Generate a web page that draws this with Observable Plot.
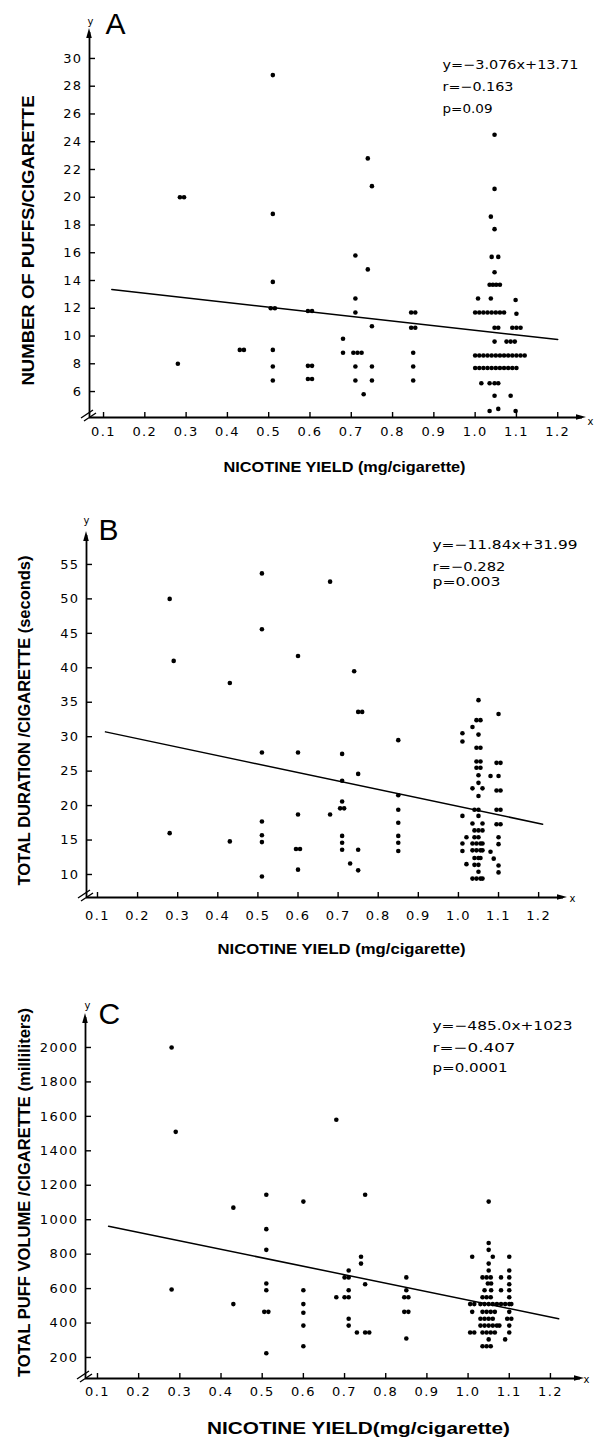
<!DOCTYPE html>
<html>
<head>
<meta charset="utf-8">
<script src="https://cdn.jsdelivr.net/npm/d3@7"></script>
<script src="https://cdn.jsdelivr.net/npm/@observablehq/plot@0.6"></script>
<style>
  html, body { margin: 0; padding: 0; background: #fff; }
  #wrap { position: relative; width: 597px; height: 1439px; overflow: hidden; background: #fff; }
  #wrap svg { position: absolute; left: 0; }
  #wrap svg g[aria-label$="tick label"] text { letter-spacing: 1.4px; }
</style>
</head>
<body>
<div id="wrap"></div>
<script>
// ---------- DATA ----------
const xTickValues = [0.1, 0.2, 0.3, 0.4, 0.5, 0.6, 0.7, 0.8, 0.9, 1.0, 1.1, 1.2];
const puffTicks = [6, 8, 10, 12, 14, 16, 18, 20, 22, 24, 26, 28, 30];
const durationTicks = [10, 15, 20, 25, 30, 35, 40, 45, 50, 55];
const volumeTicks = [200, 400, 600, 800, 1000, 1200, 1400, 1600, 1800, 2000];

const xLabelText = "NICOTINE YIELD (mg/cigarette)";
const xLabelTextC = "NICOTINE YIELD(mg/cigarette)";
const panelLetters = ["A", "B", "C"];
const yLabels = [
  "NUMBER OF PUFFS/CIGARETTE",
  "TOTAL DURATION /CIGARETTE (seconds)",
  "TOTAL PUFF VOLUME /CIGARETTE (milliliters)"
];
const puffStats = ["y=\u22123.076x+13.71", "r=\u22120.163", "p=0.09"];
const durationStats = ["y=\u221211.84x+31.99", "r=\u22120.282", "p=0.003"];
const volumeStats = ["y=\u2212485.0x+1023", "r=\u22120.407", "p=0.0001"];

// regression line end points [nicotine, value]
const puffFit = [[0.12, 13.35], [1.2, 9.75]];
const durationFit = [[0.12, 30.7], [1.21, 17.3]];
const volumeFit = [[0.127, 962], [1.22, 425]];

// [nicotine yield, number of puffs]
const puffPoints = [
  [0.285, 20], [0.295, 20], [0.28, 8],
  [0.43, 9], [0.44, 9],
  [0.51, 28.8], [0.51, 18.8], [0.51, 13.9], [0.505, 12], [0.515, 12], [0.51, 9], [0.51, 7.8], [0.51, 6.8],
  [0.595, 11.8], [0.605, 11.8], [0.595, 7.85], [0.605, 7.85], [0.595, 6.9], [0.605, 6.9],
  [0.68, 9.8], [0.68, 8.8],
  [0.71, 15.8], [0.71, 12.7], [0.71, 11.7], [0.705, 8.8], [0.715, 8.8], [0.725, 8.8], [0.71, 7.8], [0.71, 6.8],
  [0.73, 5.8],
  [0.74, 22.8], [0.74, 14.8],
  [0.75, 20.8], [0.75, 10.7], [0.75, 7.8], [0.75, 6.8],
  [0.845, 11.7], [0.855, 11.7], [0.845, 10.6], [0.855, 10.6], [0.85, 8.8], [0.85, 7.8], [0.85, 6.8],
  [1.047, 24.5], [1.047, 20.6], [1.038, 18.6], [1.047, 17.7], [1.04, 15.7], [1.056, 15.7], [1.047, 14.6],
  [1.035, 13.7], [1.043, 13.7], [1.051, 13.7], [1.06, 13.7],
  [1.007, 12.7], [1.038, 12.7], [1.098, 12.6],
  [1.0, 11.7], [1.01, 11.7], [1.02, 11.7], [1.03, 11.7], [1.04, 11.7], [1.05, 11.7], [1.06, 11.7], [1.07, 11.7], [1.1, 11.6],
  [1.047, 10.6], [1.056, 10.6], [1.09, 10.6], [1.1, 10.6], [1.11, 10.6],
  [1.047, 9.6], [1.076, 9.6], [1.086, 9.6], [1.096, 9.6],
  [1.0, 8.6], [1.01, 8.6], [1.02, 8.6], [1.03, 8.6], [1.04, 8.6], [1.05, 8.6], [1.06, 8.6], [1.07, 8.6], [1.08, 8.6], [1.09, 8.6], [1.1, 8.6], [1.11, 8.6], [1.12, 8.6],
  [1.0, 7.7], [1.01, 7.7], [1.02, 7.7], [1.03, 7.7], [1.04, 7.7], [1.05, 7.7], [1.06, 7.7], [1.07, 7.7], [1.08, 7.7], [1.09, 7.7], [1.1, 7.7],
  [1.015, 6.6], [1.035, 6.6], [1.047, 6.6], [1.056, 6.6],
  [1.047, 5.7], [1.086, 5.7],
  [1.035, 4.6], [1.056, 4.75], [1.098, 4.6]
];

// [nicotine yield, total duration (s)]
const durationPoints = [
  [0.28, 50], [0.28, 16], [0.29, 41],
  [0.43, 37.8], [0.43, 14.8],
  [0.51, 53.7], [0.51, 45.6], [0.51, 27.7], [0.51, 17.7], [0.51, 15.7], [0.51, 14.7], [0.51, 9.7],
  [0.6, 41.7], [0.6, 27.7], [0.6, 18.7], [0.595, 13.7], [0.605, 13.7], [0.6, 10.7],
  [0.68, 52.5], [0.68, 18.7],
  [0.71, 27.5], [0.71, 23.6], [0.71, 20.6], [0.705, 19.6], [0.715, 19.6], [0.71, 15.6], [0.71, 14.6], [0.71, 13.6],
  [0.73, 11.6],
  [0.74, 39.5],
  [0.75, 33.6], [0.76, 33.6], [0.75, 24.6], [0.75, 13.6], [0.75, 10.6],
  [0.85, 29.5], [0.85, 21.5], [0.85, 19.4], [0.85, 17.5], [0.85, 15.6], [0.85, 14.6], [0.85, 13.4],
  [1.01, 30.5], [1.01, 29.3], [1.01, 18.5], [1.01, 14.5], [1.01, 13.4],
  [1.02, 15.4], [1.02, 11.5],
  [1.05, 35.3], [1.045, 32.4], [1.055, 32.4], [1.035, 31.4], [1.05, 30.3],
  [1.045, 28.4], [1.055, 28.4], [1.045, 26.4], [1.055, 26.4], [1.045, 25.5], [1.055, 25.5],
  [1.05, 24.4], [1.05, 23.3], [1.035, 22.5], [1.06, 22.5], [1.05, 21.4],
  [1.04, 19.4], [1.05, 19.4], [1.05, 18.5], [1.035, 17.4], [1.06, 17.4],
  [1.04, 16.4], [1.05, 16.4], [1.06, 16.4], [1.04, 15.4], [1.05, 15.4],
  [1.035, 14.5], [1.045, 14.5], [1.055, 14.5], [1.06, 14.5],
  [1.035, 13.5], [1.045, 13.5], [1.055, 13.5], [1.06, 13.5],
  [1.04, 12.4], [1.05, 12.4], [1.055, 12.4], [1.04, 11.4], [1.05, 11.4], [1.05, 10.4],
  [1.035, 9.4], [1.045, 9.4], [1.055, 9.4], [1.06, 9.4],
  [1.08, 24.3], [1.08, 13.3], [1.088, 12.3],
  [1.1, 33.3], [1.095, 26.2], [1.105, 26.2], [1.1, 24.3], [1.095, 22.2], [1.105, 22.2],
  [1.095, 19.4], [1.105, 19.4], [1.095, 17.3], [1.105, 17.3], [1.1, 15.4], [1.1, 14.4], [1.1, 11.3], [1.1, 10.3]
];

// [nicotine yield, total puff volume (ml)]
const volumePoints = [
  [0.28, 2000], [0.28, 595], [0.29, 1510],
  [0.43, 1070], [0.43, 510],
  [0.51, 1145], [0.51, 945], [0.51, 825], [0.51, 630], [0.51, 590], [0.505, 465], [0.515, 465], [0.51, 225],
  [0.6, 1105], [0.6, 590], [0.6, 510], [0.6, 460], [0.6, 385], [0.6, 265],
  [0.68, 1580], [0.68, 550],
  [0.71, 705], [0.70, 665], [0.71, 665], [0.71, 590], [0.70, 550], [0.71, 550], [0.71, 425], [0.71, 385],
  [0.74, 785], [0.74, 745],
  [0.75, 1145], [0.75, 625],
  [0.73, 345], [0.75, 345], [0.76, 345],
  [0.85, 665], [0.85, 590], [0.845, 550], [0.855, 550], [0.845, 465], [0.855, 465], [0.85, 310],
  [1.01, 785], [1.005, 510], [1.015, 510], [1.01, 465], [1.005, 345], [1.015, 345],
  [1.05, 1105], [1.05, 865], [1.05, 825], [1.06, 785], [1.05, 745], [1.05, 705],
  [1.035, 665], [1.045, 665], [1.055, 665], [1.048, 630], [1.056, 630],
  [1.04, 590], [1.056, 590], [1.035, 550], [1.045, 550], [1.055, 550],
  [1.03, 510], [1.04, 510], [1.05, 510], [1.06, 510], [1.07, 510], [1.08, 510], [1.09, 510],
  [1.035, 465], [1.045, 465], [1.055, 465], [1.065, 465],
  [1.03, 425], [1.04, 425], [1.05, 425], [1.06, 425],
  [1.03, 385], [1.04, 385], [1.05, 385], [1.06, 385], [1.07, 385], [1.076, 385],
  [1.035, 345], [1.045, 345], [1.055, 345], [1.065, 345],
  [1.05, 305], [1.035, 265], [1.045, 265], [1.055, 265],
  [1.08, 665], [1.08, 590], [1.09, 305],
  [1.1, 785], [1.1, 705], [1.1, 665], [1.1, 625], [1.1, 590], [1.1, 550], [1.1, 510], [1.105, 510],
  [1.1, 465], [1.095, 425], [1.105, 425], [1.1, 385], [1.1, 345]
];

// ---------- LAYOUT ----------
const W = 597;
const panels = [
  {
    top: 0, height: 480, left: 89, right: 582, frameTop: 32, frameBottom: 417,
    xDomain: [0.066, 1.26], yDomain: [4.13, 31.87], yTicks: puffTicks, yFormat: d3.format("d"),
    points: puffPoints, fit: puffFit, stats: puffStats, letter: panelLetters[0], yLabel: yLabels[0], xLabel: xLabelText,
    xPad: 9, letterPos: [105, 24], yPos: [90, 21], xPos: [590, 421],
    statX: 442, statRows: [64, 86, 108], statLens: [136, 71, 50],
    yLabelPos: [28, 240], yLabelLen: 290, xLabelPos: [344, 467], xLabelLen: 242, xLabelSize: 14
  },
  {
    top: 480, height: 480, left: 86, right: 563, frameTop: 535, frameBottom: 897,
    xDomain: [0.0726, 1.262], yDomain: [6.66, 59.2], yTicks: durationTicks, yFormat: d3.format("d"),
    points: durationPoints, fit: durationFit, stats: durationStats, letter: panelLetters[1], yLabel: yLabels[1], xLabel: xLabelText,
    xPad: 13, letterPos: [98, 530], yPos: [86, 520], xPos: [572, 898],
    statX: 432, statRows: [544, 566, 581], statLens: [145, 73, 68],
    yLabelPos: [24, 720], yLabelLen: 330, xLabelPos: [341, 949], xLabelLen: 248, xLabelSize: 14
  },
  {
    top: 960, height: 479, left: 85, right: 580, frameTop: 1017, frameBottom: 1378,
    xDomain: [0.0709, 1.273], yDomain: [78, 2174], yTicks: volumeTicks, yFormat: d3.format("d"),
    points: volumePoints, fit: volumeFit, stats: volumeStats, letter: panelLetters[2], yLabel: yLabels[2], xLabel: xLabelTextC,
    xPad: 8, letterPos: [98, 1014], yPos: [87, 1005], xPos: [586, 1379],
    statX: 432, statRows: [1025, 1047, 1067], statLens: [140, 83, 75],
    yLabelPos: [24, 1192], yLabelLen: 369, xLabelPos: [358, 1428], xLabelLen: 303, xLabelSize: 17
  }
];

const wrap = document.getElementById("wrap");

function fitText(svg, str, len) {
  d3.select(svg).selectAll("text")
    .filter(function () { return this.textContent === str; })
    .attr("textLength", len)
    .attr("lengthAdjust", "spacingAndGlyphs");
}

for (const p of panels) {
  const innerW = p.right - p.left;
  const innerH = p.frameBottom - p.frameTop;
  const mt = p.frameTop - p.top;
  const mb = p.top + p.height - p.frameBottom;
  const midX = (p.left + p.right) / 2;
  const midY = (p.frameTop + p.frameBottom) / 2;

  const statMarks = p.stats.map((s, i) =>
    Plot.text([s], {
      frameAnchor: "top-left", text: d => d,
      dx: p.statX - p.left, dy: p.statRows[i] - p.frameTop,
      textAnchor: "start", lineAnchor: "middle",
      fontSize: 12.5, fontFamily: "DejaVu Sans", fill: "#000"
    })
  );

  const chart = Plot.plot({
    width: W,
    height: p.height,
    marginLeft: p.left,
    marginRight: W - p.right,
    marginTop: mt,
    marginBottom: mb,
    style: { background: "#fff", color: "#000", fontFamily: "DejaVu Sans, sans-serif", fontSize: "13px", overflow: "visible" },
    x: { domain: p.xDomain, ticks: xTickValues, tickSize: 0, tickPadding: p.xPad, tickFormat: d3.format(".1f"), label: null },
    y: { domain: p.yDomain, ticks: p.yTicks, tickSize: 0, tickPadding: 7, tickFormat: p.yFormat, label: null },
    marks: [
      Plot.tickX(xTickValues, { x: d => d, insetTop: innerH - 5, stroke: "#000", strokeWidth: 1.4 }),
      Plot.tickY(p.yTicks, { y: d => d, insetRight: innerW - 6, stroke: "#000", strokeWidth: 1.4 }),
      Plot.ruleX([p.xDomain[0]], { stroke: "#000", strokeWidth: 1.8 }),
      Plot.ruleY([p.yDomain[0]], { stroke: "#000", strokeWidth: 1.8 }),
      Plot.line(p.fit, { x: d => d[0], y: d => d[1], stroke: "#000", strokeWidth: 1.5 }),
      Plot.dot(p.points, { x: d => d[0], y: d => d[1], r: 2.3, fill: "#000", stroke: null }),
      Plot.text([p.letter], {
        frameAnchor: "top-left", text: d => d,
        dx: p.letterPos[0] - p.left, dy: p.letterPos[1] - p.frameTop,
        textAnchor: "start", lineAnchor: "middle", fontSize: 30, fontFamily: "Liberation Sans", fill: "#000"
      }),
      Plot.text(["y"], {
        frameAnchor: "top-left", text: d => d,
        dx: p.yPos[0] - p.left, dy: p.yPos[1] - p.frameTop,
        textAnchor: "middle", lineAnchor: "middle", fontSize: 10, fontFamily: "DejaVu Sans", fill: "#000"
      }),
      Plot.text(["x"], {
        frameAnchor: "bottom-right", text: d => d,
        dx: p.xPos[0] - p.right, dy: p.xPos[1] - p.frameBottom,
        textAnchor: "middle", lineAnchor: "middle", fontSize: 10, fontFamily: "DejaVu Sans", fill: "#000"
      }),
      Plot.text([p.yLabel], {
        frameAnchor: "left", text: d => d, rotate: -90,
        dx: p.yLabelPos[0] - p.left, dy: p.yLabelPos[1] - midY,
        textAnchor: "middle", lineAnchor: "middle", fontSize: 16, fontWeight: "bold", fontFamily: "Liberation Sans", fill: "#000"
      }),
      Plot.text([p.xLabel], {
        frameAnchor: "bottom", text: d => d,
        dx: p.xLabelPos[0] - midX, dy: p.xLabelPos[1] - p.frameBottom,
        textAnchor: "middle", lineAnchor: "middle", fontSize: p.xLabelSize, fontWeight: "bold", fontFamily: "Liberation Sans", fill: "#000"
      }),
      ...statMarks
    ]
  });

  chart.style.top = p.top + "px";
  wrap.appendChild(chart);

  // decorations: arrow heads and axis break marks
  const s = d3.select(chart);
  const L = p.left, FT = mt, FB = p.height - mb, R = p.right;
  s.append("path").attr("d", `M${L},${FT - 4}L${L - 2.8},${FT + 6}L${L + 2.8},${FT + 6}Z`).attr("fill", "#000");
  s.append("path").attr("d", `M${R + 4},${FB}L${R - 6},${FB - 2.8}L${R - 6},${FB + 2.8}Z`).attr("fill", "#000");
  s.append("path")
    .attr("d", `M${L - 8},${FB + 1}L${L + 4},${FB - 7}M${L - 5},${FB + 4}L${L + 7},${FB - 4}`)
    .attr("stroke", "#000").attr("stroke-width", 1.4).attr("fill", "none");

  fitText(chart, p.yLabel, p.yLabelLen);
  fitText(chart, p.xLabel, p.xLabelLen);
  p.stats.forEach((st, i) => fitText(chart, st, p.statLens[i]));
}
</script>
</body>
</html>
